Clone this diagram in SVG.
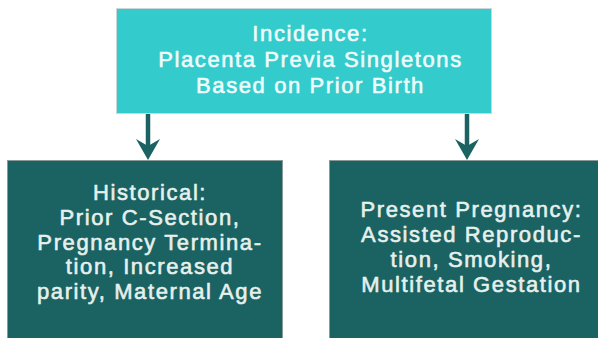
<svg xmlns="http://www.w3.org/2000/svg" width="598" height="338" viewBox="0 0 598 338">
  <defs>
    <style>
      .top { fill: #33cbcb; stroke: #c8d8d8; stroke-width: 1; }
      .dark { fill: #1b6362; stroke: #8a9a98; stroke-width: 1; }
      .t { font-family: "Liberation Sans", Arial, sans-serif; font-size: 22px; letter-spacing: 1.6px; text-anchor: middle; stroke-width: 0.6px; stroke-linejoin: round; }
      .tl { fill: #eefcfc; stroke: #eefcfc; }
      .td { fill: #e6f0ec; stroke: #e6f0ec; }
      .conn line { stroke: #1b6362; stroke-width: 4.5; }
      .conn polygon { fill: #1b6362; }
    </style>
  </defs>
  <rect width="598" height="338" fill="#ffffff"/>
  <g id="connectors" class="conn">
    <line x1="148" y1="113" x2="148" y2="146"/>
    <polygon points="148,160 136,139 148,146 160,139"/>
    <line x1="467" y1="113" x2="467" y2="146"/>
    <polygon points="467,160 455,139 467,146 479,139"/>
  </g>
  <g id="incidence">
    <rect class="top" x="116.5" y="8.5" width="375" height="105"/>
    <text class="t tl" x="310.5" y="41">Incidence:</text>
    <text class="t tl" x="310.5" y="67">Placenta Previa Singletons</text>
    <text class="t tl" x="310.5" y="92.5">Based on Prior Birth</text>
  </g>
  <g id="historical">
    <rect class="dark" x="7.5" y="160.5" width="275" height="190"/>
    <text class="t td" x="150" y="199.5">Historical:</text>
    <text class="t td" x="150" y="224.5">Prior C-Section,</text>
    <text class="t td" x="150" y="249.5">Pregnancy Termina-</text>
    <text class="t td" x="150" y="274">tion, Increased</text>
    <text class="t td" x="150" y="298.5">parity, Maternal Age</text>
  </g>
  <g id="present">
    <rect class="dark" x="329.5" y="160.5" width="280" height="190"/>
    <text class="t td" x="471.5" y="217">Present Pregnancy:</text>
    <text class="t td" x="471.5" y="242">Assisted Reproduc-</text>
    <text class="t td" x="471.5" y="267">tion, Smoking,</text>
    <text class="t td" x="471.5" y="292">Multifetal Gestation</text>
  </g>
</svg>
